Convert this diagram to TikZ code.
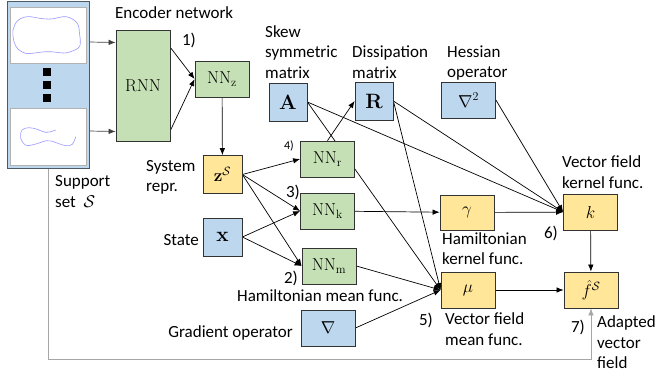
\RequirePackage{fix-cm}
\documentclass[tikz,border=0pt]{standalone}
\usepackage[no-math]{fontspec}
\setmainfont{Carlito}
\usepackage{amsmath,amssymb}
\usetikzlibrary{arrows.meta,backgrounds}
\definecolor{netgreen}{HTML}{C5E0B4}
\definecolor{inblue}{HTML}{BDD7EE}
\definecolor{fnyellow}{HTML}{FFE699}
\definecolor{framegray}{HTML}{4D5A66}

\begin{document}
\begin{tikzpicture}[x=1pt,y=-1pt,
  box/.style={draw=black!80,line width=0.8pt,minimum width=54pt,minimum height=36pt,inner sep=0pt,font=\fontsize{17.28}{21}\selectfont},
  sq/.style={box,minimum width=39pt,minimum height=38pt,font=\fontsize{20.74}{24}\selectfont},
  nn/.style={box,fill=netgreen},
  inp/.style={sq,fill=inblue},
  op/.style={box,fill=inblue},
  fn/.style={box,fill=fnyellow},
  lbl/.style={inner sep=0pt,align=left,font=\fontsize{17}{20.5}\selectfont},
  num/.style={inner sep=0pt,font=\fontsize{17}{20}\selectfont},
  link/.style={-{Latex[length=7pt,width=5.5pt]},line width=0.7pt},
  back/.style={link,draw=gray!70}]
  \useasboundingbox (0,0) rectangle (656,376);
  % support set panel
  \node[draw=framegray,fill=inblue,line width=1pt,minimum width=82pt,minimum height=167pt,inner sep=0pt] (supp) at (48,85) {};
  \draw[fill=white,draw=gray!60,line width=0.8pt] (10,7) rectangle (86,63);
  \draw[fill=white,draw=gray!60,line width=0.8pt] (10,108) rectangle (86,165);
  \foreach \y in {72,85,98} \fill (42.7,\y-4) rectangle (50.7,\y+4);
  \draw[blue!40,line width=0.6pt] plot[smooth cycle,tension=0.6,mark=square*,mark size=0.9pt,mark options={fill=blue,draw=none}] coordinates {
    (24,17.3) (30.7,16.7) (39.7,18.3) (51.3,19) (66.3,16.7) (77.3,23.3) (79.7,35) (80.3,43.3) (78,48.3) (67.3,52.7)
    (59.7,52.7) (51.3,51.7) (45.7,51.7) (39.7,52.3) (32,53.3) (25.3,53.3) (18,49) (14,41.7) (13,30) (17.3,21)};
  \draw[blue!40,line width=0.6pt] plot[smooth,tension=0.6,mark=square*,mark size=0.9pt,mark options={fill=blue,draw=none}] coordinates {
    (55.7,130) (50.7,131.7) (45.3,132.3) (41.3,131) (36.3,129) (28.7,127.7) (22,130) (20.7,138.3) (25.3,145)
    (32,145) (39.7,142.7) (46.3,140.7) (51.3,141) (58,143.3) (65.7,145.7) (72.3,144.3) (75.7,136.7)};
  % encoder
  \node[nn,minimum height=111pt] (rnn) at (143,85.5) {$\mathrm{RNN}$};
  \node[nn] (nnz) at (222,79) {$\mathrm{NN}_\mathrm{z}$};
  \node[sq,fill=fnyellow,font=\fontsize{17.28}{21}\selectfont] (zs) at (222.5,174.5) {$\mathbf{z}^{\mathcal{S}}$};
  \node[inp] (x) at (222.5,237) {$\mathbf{x}$};
  % matrices and operators
  \node[inp,minimum width=38pt] (A) at (288,102) {$\mathbf{A}$};
  \node[inp,minimum width=38pt] (R) at (374,101) {$\mathbf{R}$};
  \node[op] (hess) at (468.5,100) {$\nabla^2$};
  \node[op] (grad) at (328,328) {$\nabla$};
  % networks
  \node[nn] (nnr) at (327.5,159) {$\mathrm{NN}_\mathrm{r}$};
  \node[nn] (nnk) at (327.5,211) {$\mathrm{NN}_\mathrm{k}$};
  \node[nn] (nnm) at (329,266) {$\mathrm{NN}_\mathrm{m}$};
  % kernel and mean functions
  \node[fn,minimum height=35pt] (gam) at (467,212.5) {$\gamma$};
  \node[fn] (mu) at (468,290) {$\mu$};
  \node[fn] (k) at (590.5,212) {$k$};
  \node[fn] (fs) at (591,290) {$\hat{f}^{\mathcal{S}}$};
  % labels
  \node[lbl,anchor=west] (lenc) at (115,13) {Encoder network};
  \node[lbl,anchor=west] (lsupp) at (55,191.5) {Support\\set\ \ $\mathcal{S}$};
  \node[lbl,anchor=west] (lsys) at (146,177.5) {System\\repr.};
  \node[lbl,anchor=east] (lstate) at (199,240) {State};
  \node[lbl,anchor=west] (lskew) at (265,52) {Skew\\symmetric\\matrix};
  \node[lbl,anchor=west] (ldiss) at (352,62) {Dissipation\\matrix};
  \node[lbl,anchor=west] (lhess) at (447,63) {Hessian\\operator};
  \node[lbl,anchor=west] (lhmean) at (237,296) {Hamiltonian mean func.};
  \node[lbl,anchor=east] (lgrad) at (293,333) {Gradient operator};
  \node[lbl,anchor=west] (lhker) at (442,248.5) {Hamiltonian\\kernel func.};
  \node[lbl,anchor=west] (lvmean) at (445,329) {Vector field\\mean func.};
  \node[lbl,anchor=west] (lvker) at (562,172) {Vector field\\kernel func.};
  \node[lbl,anchor=west] (ladapt) at (597,342.5) {Adapted\\vector\\field};
  \node[num] (s1) at (189,40) {1)};
  \node[num] (s2) at (291,278) {2)};
  \node[num] (s3) at (293,192) {3)};
  \node[num,font=\fontsize{12}{14}\selectfont] (s4) at (289,146) {4)};
  \node[num] (s5) at (426,320) {5)};
  \node[num] (s6) at (551,233) {6)};
  \node[num] (s7) at (578,327) {7)};
  % connections
  \begin{scope}[on background layer]
    \draw[link,draw=black!75] ([yshift=43pt]supp.east) -- ([yshift=43pt]rnn.west);
    \draw[link,draw=black!75] ([yshift=-46pt]supp.east) -- ([yshift=-46pt]rnn.west);
    \draw[link] ([yshift=38pt]rnn.east) -- (nnz.west);
    \draw[link] ([yshift=-45pt]rnn.east) -- (nnz.west);
    \draw[link] (nnz) -- (zs);
    \foreach \t in {nnr,nnk,nnm} \draw[link] (zs.east) -- (\t.west);
    \foreach \t in {nnk,nnm} \draw[link] (x.east) -- (\t.west);
    \draw[link] (nnr.north) -- (R.west);
    \draw[link] (A.east) -- (mu.west);
    \draw[link] (A.east) -- (k.west);
    \draw[link] (R.east) -- (k.west);
    \draw[link] (R.east) -- (mu.west);
    \draw[link] (hess.east) -- (k.west);
    \draw[link] (nnk) -- (gam);
    \draw[link] (gam) -- (k);
    \draw[link] (nnm.east) -- (mu.west);
    \draw[link] (grad.east) -- (mu.west);
    \draw[link] (k) -- (fs);
    \draw[link] (mu) -- (fs);
    \coordinate (ret) at (48,359);
    \draw[back] (supp.south) -- (ret) -| (fs.south);
  \end{scope}
\end{tikzpicture}
\end{document}
